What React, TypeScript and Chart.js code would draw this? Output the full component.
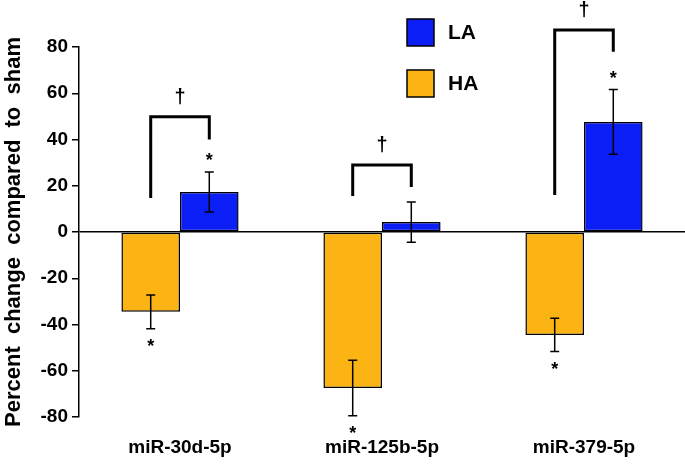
import React, { useEffect, useRef } from "react";
import { Chart, registerables } from "chart.js";

Chart.register(...registerables);

const categories = ["miR-30d-5p", "miR-125b-5p", "miR-379-5p"];
const haValues = [-34.5, -67.5, -44.5];
const haErrors = [7.3, 12, 7.2];
const laValues = [17.3, 4.3, 47.6];
const laErrors = [8.7, 8.7, 14];
const haStars = [true, true, true];
const laStars = [true, false, true];
// significance brackets (y values): left leg bottom, top, right leg bottom
const bracketLeftLow = [14.7, 15.6, 16];
const bracketTop = [49.8, 29, 87.4];
const bracketRightLow = [40, 19.5, 78];
const yTicks = [-80, -60, -40, -20, 0, 20, 40, 60, 80];

const FONT = "'Liberation Sans', Arial, Helvetica, sans-serif";
const HA_COLOR = "#FBB414";
const LA_COLOR = "#0A1EF5";

const annotPlugin = {
  id: "annot",
  afterDatasetsDraw(chart: any) {
    const ctx = chart.ctx;
    const ys = chart.scales.y;
    const metaHA = chart.getDatasetMeta(0);
    const metaLA = chart.getDatasetMeta(1);
    ctx.save();
    ctx.strokeStyle = "#000";
    ctx.fillStyle = "#000";
    const drawErr = (x: number, v: number, e: number) => {
      const y1 = ys.getPixelForValue(v + e);
      const y2 = ys.getPixelForValue(v - e);
      ctx.lineWidth = 1.5;
      ctx.beginPath();
      ctx.moveTo(x, y1);
      ctx.lineTo(x, y2);
      ctx.moveTo(x - 4.5, y1);
      ctx.lineTo(x + 4.5, y1);
      ctx.moveTo(x - 4.5, y2);
      ctx.lineTo(x + 4.5, y2);
      ctx.stroke();
    };
    ctx.textAlign = "center";
    ctx.textBaseline = "middle";
    categories.forEach((_, i) => {
      const xh = metaHA.data[i].x;
      const xl = metaLA.data[i].x;
      drawErr(xh, haValues[i], haErrors[i]);
      drawErr(xl, laValues[i], laErrors[i]);
      ctx.font = `bold 18px ${FONT}`;
      if (haStars[i]) {
        const yb = ys.getPixelForValue(haValues[i] - haErrors[i]);
        ctx.fillText("*", xh, yb + 18);
      }
      if (laStars[i]) {
        const yt = ys.getPixelForValue(laValues[i] + laErrors[i]);
        ctx.fillText("*", xl, yt - 11);
      }
      // bracket
      const yTop = ys.getPixelForValue(bracketTop[i]);
      ctx.lineWidth = 3;
      ctx.lineJoin = "miter";
      ctx.beginPath();
      ctx.moveTo(xh, ys.getPixelForValue(bracketLeftLow[i]));
      ctx.lineTo(xh, yTop);
      ctx.lineTo(xl, yTop);
      ctx.lineTo(xl, ys.getPixelForValue(bracketRightLow[i]));
      ctx.stroke();
      ctx.font = `bold 20px ${FONT}`;
      ctx.fillText("\u2020", (xh + xl) / 2, yTop - 19);
    });
    // legend
    const ds = chart.data.datasets;
    const items = [ds[1], ds[0]];
    items.forEach((d: any, k: number) => {
      const top = 19 + k * 51;
      ctx.fillStyle = d.backgroundColor;
      ctx.fillRect(407, top, 27, 27);
      ctx.lineWidth = 1.5;
      ctx.strokeStyle = "#000";
      ctx.strokeRect(407, top, 27, 27);
      ctx.fillStyle = "#000";
      ctx.font = `bold 21px ${FONT}`;
      ctx.textAlign = "left";
      ctx.fillText(d.label, 448, top + 14);
    });
    ctx.restore();
  },
};

export default function App() {
  const ref = useRef<HTMLCanvasElement>(null);
  useEffect(() => {
    document.body.style.margin = "0";
    const canvas = ref.current!;
    const chart = new Chart(canvas, {
      type: "bar",
      data: {
        labels: categories,
        datasets: [
          {
            label: "HA",
            data: haValues,
            backgroundColor: HA_COLOR,
            borderColor: "#000",
            borderWidth: 1.5,
            borderSkipped: false,
          },
          {
            label: "LA",
            data: laValues,
            backgroundColor: LA_COLOR,
            borderColor: "#000",
            borderWidth: 1.5,
            borderSkipped: false,
          },
        ],
      },
      options: {
        responsive: false,
        animation: false,
        devicePixelRatio: 1,
        layout: { padding: { top: 47, left: 0, right: 0, bottom: 0 } },
        datasets: { bar: { categoryPercentage: 0.58, barPercentage: 1 } },
        plugins: { legend: { display: false }, tooltip: { enabled: false } },
        scales: {
          x: {
            grid: { display: false },
            border: { display: false },
            ticks: {
              color: "#000",
              padding: 11,
              font: { family: FONT, size: 19, weight: "bold" },
            },
            afterFit: (s: any) => {
              s.height = 57;
            },
          },
          y: {
            min: -80,
            max: 80,
            afterBuildTicks: (s: any) => {
              s.ticks = yTicks.map((v) => ({ value: v }));
            },
            grid: {
              color: (c: any) => (c.tick && c.tick.value === 0 ? "#000" : "rgba(0,0,0,0)"),
              lineWidth: 1.5,
              tickColor: "#000",
              tickLength: 7,
              drawTicks: true,
            },
            border: { display: true, color: "#000", width: 1.5 },
            ticks: {
              color: "#000",
              padding: 4,
              font: { family: FONT, size: 19, weight: "bold" },
            },
            title: {
              display: true,
              text: "Percent  change  compared  to  sham",
              color: "#000",
              padding: { top: 1, bottom: 0 },
              font: { family: FONT, size: 22, weight: "bold" },
            },
            afterFit: (s: any) => {
              s.width = 79;
            },
          },
        },
      },
      plugins: [annotPlugin],
    } as any);
    return () => chart.destroy();
  }, []);
  return (
    <div style={{ width: 685, height: 474 }}>
      <canvas ref={ref} width={685} height={474} />
    </div>
  );
}
